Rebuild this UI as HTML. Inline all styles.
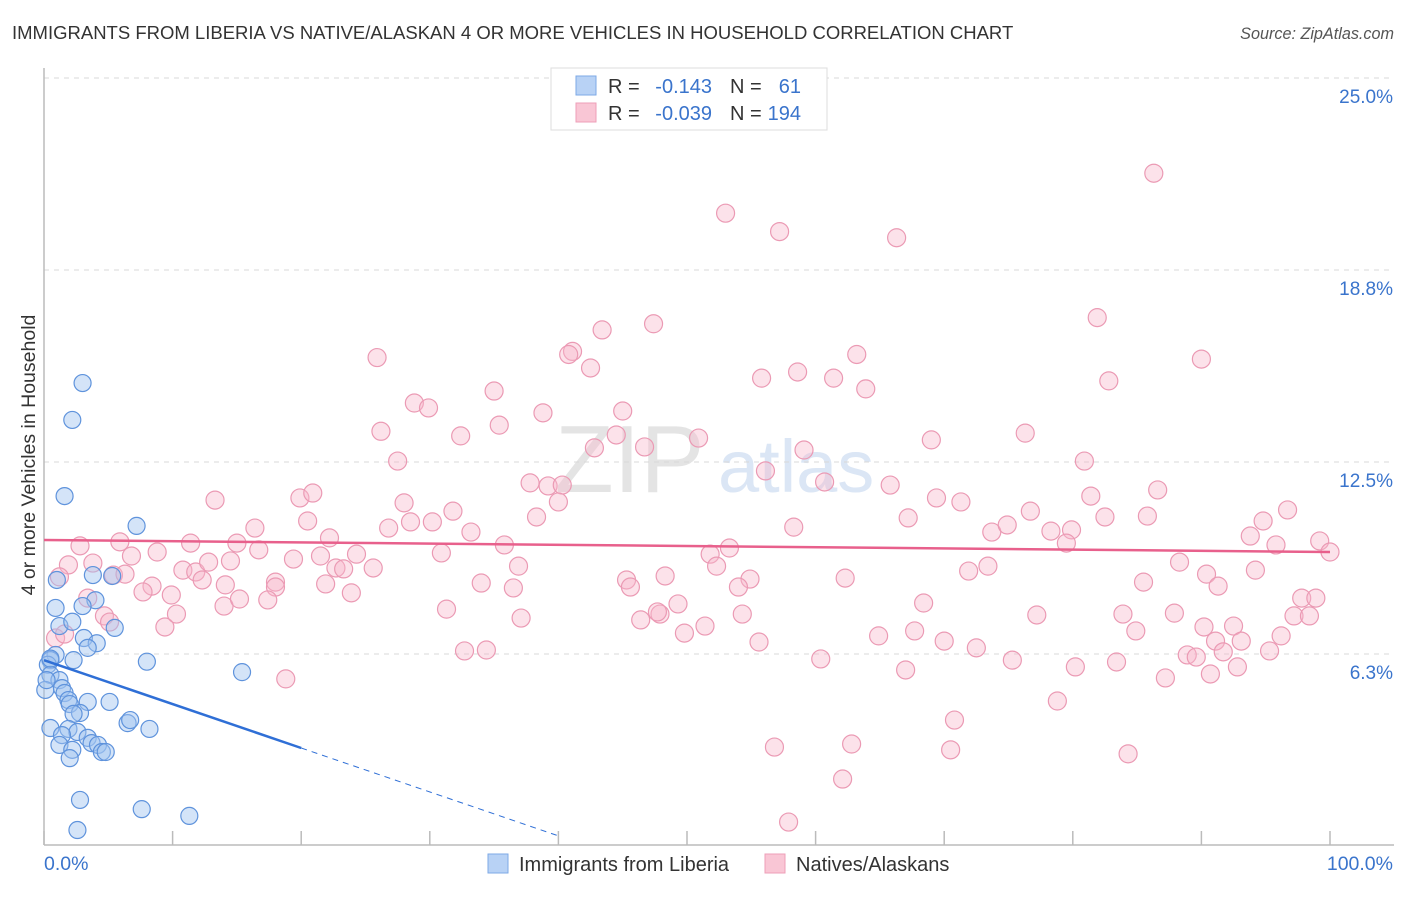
<!DOCTYPE html>
<html><head><meta charset="utf-8"><style>
body{margin:0;background:#fff;font-family:"Liberation Sans",sans-serif;}
svg text{font-family:"Liberation Sans",sans-serif;}
</style></head><body>
<svg id="chart" width="1406" height="892" viewBox="0 0 1406 892">
<text x="12" y="39" font-size="18.5" fill="#333">IMMIGRANTS FROM LIBERIA VS NATIVE/ALASKAN 4 OR MORE VEHICLES IN HOUSEHOLD CORRELATION CHART</text>
<text x="1394" y="39" font-size="16.2" fill="#555" font-style="italic" text-anchor="end">Source: ZipAtlas.com</text>
<g>
<text x="555" y="492" font-size="96" fill="#e4e4e4" font-family="Liberation Serif,serif">ZIP</text>
<text x="718" y="492" font-size="74" fill="#dbe6f5">atlas</text>
</g>
<g id="grid"></g>
<g id="axes"></g>
<g id="pink"></g>
<g id="blue"></g>
<g id="lines"></g>
<text transform="translate(35,455) rotate(-90)" font-size="19.5" fill="#333" text-anchor="middle">4 or more Vehicles in Household</text>
<g>
<rect x="551" y="68" width="276" height="62" fill="#fff" stroke="#ddd"/>
<rect x="576" y="76" width="20" height="19" fill="#b8d2f5" stroke="#7ea9e6"/>
<rect x="576" y="103" width="20" height="19" fill="#f9c6d5" stroke="#ee9fb8"/>
<text x="608" y="93" font-size="20" fill="#333">R = </text><text x="712" y="93" font-size="20" fill="#3a74cc" text-anchor="end">-0.143</text>
<text x="730" y="93" font-size="20" fill="#333">N = </text><text x="801" y="93" font-size="20" fill="#3a74cc" text-anchor="end">61</text>
<text x="608" y="120" font-size="20" fill="#333">R = </text><text x="712" y="120" font-size="20" fill="#3a74cc" text-anchor="end">-0.039</text>
<text x="730" y="120" font-size="20" fill="#333">N = </text><text x="801" y="120" font-size="20" fill="#3a74cc" text-anchor="end">194</text>
</g>
<g>
<rect x="488" y="854" width="20" height="19" fill="#b8d2f5" stroke="#7ea9e6"/>
<text x="519" y="871" font-size="20" fill="#333">Immigrants from Liberia</text>
<rect x="765" y="854" width="20" height="19" fill="#f9c6d5" stroke="#ee9fb8"/>
<text x="796" y="871" font-size="20" fill="#333">Natives/Alaskans</text>
</g>
<text x="44" y="870" font-size="19.5" fill="#3a74cc">0.0%</text>
<text x="1393" y="870" font-size="19.5" fill="#3a74cc" text-anchor="end">100.0%</text>
</svg>
<script>
const yTicks=[25,18.75,12.5,6.25];
const yTickLabels=["25.0%","18.8%","12.5%","6.3%"];
const xTicks=[0,10,20,30,40,50,60,70,80,90,100];
const blueX=[3.0,2.2,1.6,7.2,1.0,3.8,5.3,4.0,3.0,0.9,1.2,5.5,2.2,3.1,4.1,3.4,0.9,0.5,0.3,2.3,8.0,15.4,0.5,1.2,0.1,1.4,1.6,1.9,2.0,3.4,5.1,2.8,2.3,6.5,6.7,0.5,8.2,1.9,2.6,1.4,3.4,1.2,3.7,2.2,4.2,2.0,4.5,4.8,2.8,7.6,2.6,11.3,0.5,0.2];
const blueY=[15.07,13.87,11.39,10.42,8.66,8.82,8.79,8.0,7.81,7.75,7.16,7.1,7.3,6.77,6.6,6.45,6.22,6.05,5.9,6.05,6.0,5.66,5.57,5.4,5.08,5.14,4.98,4.75,4.62,4.69,4.69,4.33,4.3,4.0,4.1,3.84,3.81,3.81,3.71,3.61,3.52,3.29,3.35,3.13,3.29,2.86,3.06,3.06,1.5,1.2,0.52,0.98,6.1,5.4];
const pinkX=[86.3,53.0,57.2,66.3,81.9,43.4,47.4,25.9,41.1,40.8,63.2,90.0,42.5,58.6,55.8,61.4,82.8,35.0,63.9,28.8,29.9,45.0,38.8,35.4,26.2,44.5,32.4,76.3,50.9,69.0,42.8,46.7,59.1,27.5,80.9,56.1,13.3,19.9,20.9,37.8,39.2,40.3,40.0,60.7,65.8,28.0,69.4,71.3,81.4,86.6,96.7,20.5,31.8,76.7,82.5,85.8,16.4,26.8,28.5,30.2,38.3,67.2,94.8,11.4,22.2,33.2,58.3,73.7,74.9,78.3,79.9,93.8,5.9,8.8,6.8,16.7,15.0,19.4,21.5,24.3,30.9,35.8,79.5,95.8,99.2,100,14.5,51.8,53.3,2.8,3.8,1.9,5.4,6.3,10.8,11.8,12.8,18.0,18.0,21.9,22.7,23.3,25.6,36.9,52.3,71.9,73.4,88.3,90.4,94.2,1.2,8.4,12.3,14.1,34.0,36.5,45.3,48.3,54.9,45.6,54.0,62.3,85.5,3.4,7.7,9.9,14.0,15.2,17.4,23.9,31.3,47.9,49.3,68.4,91.3,97.8,98.9,4.7,5.1,9.4,10.3,37.1,46.4,47.7,51.4,54.3,49.8,64.9,67.7,70.0,77.2,83.9,84.9,87.9,90.2,92.5,93.1,96.2,97.2,98.4,0.9,1.6,32.7,34.4,55.6,72.5,91.1,91.7,95.3,60.4,75.3,80.2,83.4,88.9,89.6,92.8,67.0,87.2,18.8,90.7,78.8,70.8,56.8,62.8,70.5,84.3,62.1,57.9];
const pinkY=[21.9,20.6,20.0,19.8,17.2,16.8,17.0,15.9,16.1,16.0,16.0,15.85,15.56,15.43,15.23,15.23,15.14,14.81,14.88,14.42,14.26,14.16,14.1,13.7,13.5,13.38,13.35,13.44,13.28,13.22,12.96,12.99,12.89,12.53,12.53,12.21,11.26,11.33,11.49,11.82,11.72,11.75,11.2,11.85,11.75,11.17,11.33,11.2,11.39,11.59,10.94,10.58,10.9,10.9,10.71,10.74,10.35,10.35,10.55,10.55,10.71,10.68,10.58,9.86,10.03,10.22,10.38,10.22,10.45,10.25,10.29,10.09,9.9,9.57,9.44,9.64,9.86,9.34,9.44,9.5,9.54,9.8,9.86,9.8,9.93,9.57,9.28,9.5,9.7,9.77,9.21,9.15,8.82,8.85,8.98,8.92,9.24,8.59,8.43,8.53,9.05,9.02,9.05,9.11,9.11,8.95,9.11,9.24,8.85,8.98,8.76,8.46,8.66,8.5,8.56,8.4,8.66,8.79,8.69,8.43,8.43,8.72,8.59,8.07,8.27,8.17,7.81,8.04,8.01,8.24,7.71,7.55,7.88,7.91,8.46,8.07,8.07,7.49,7.29,7.13,7.55,7.42,7.36,7.62,7.16,7.55,6.93,6.84,7.0,6.67,7.52,7.55,7.0,7.58,7.13,7.16,6.67,6.84,7.49,7.49,6.77,6.9,6.35,6.38,6.64,6.45,6.67,6.32,6.35,6.09,6.05,5.83,5.99,6.22,6.15,5.83,5.73,5.47,5.44,5.6,4.72,4.1,3.22,3.32,3.13,3.0,2.18,0.78];
const blueTrend=[[0,6.05],[20,3.19],[40,0.33]];
const pinkTrend=[[0,9.96],[100,9.57]];

const NS="http://www.w3.org/2000/svg";
const X0=44,X1=1330,Y0=846,PXY=30.72;
const sx=v=>X0+v*(X1-X0)/100;
const sy=v=>Y0-v*PXY;
function mk(tag,attrs,parent){const e=document.createElementNS(NS,tag);for(const k in attrs)e.setAttribute(k,attrs[k]);parent.appendChild(e);return e;}
const grid=document.getElementById('grid');
yTicks.forEach((t,i)=>{
  const l=mk('line',{x1:X0,x2:1394,y1:sy(t),y2:sy(t),stroke:'#d8d8d8','stroke-dasharray':'5,5'},grid);
  
  
  const tx=mk('text',{x:1393,y:sy(t)+25,'font-size':19,fill:'#3a74cc','text-anchor':'end'},grid);
  tx.textContent=yTickLabels[i];
  
  
});
const axes=document.getElementById('axes');
mk('line',{x1:X0,x2:X0,y1:68,y2:845,stroke:'#bbb','stroke-width':1.5},axes);
mk('line',{x1:X0,x2:1394,y1:845,y2:845,stroke:'#bbb','stroke-width':1.5},axes);
xTicks.forEach(t=>{
  const l=mk('line',{x1:sx(t),x2:sx(t),y1:831,y2:845,stroke:'#bbb','stroke-width':1.5},axes);
  
  
});
const pink=document.getElementById('pink');
pinkX.forEach((v,i)=>{
  const c=mk('circle',{cx:sx(v),cy:sy(pinkY[i]),r:9,fill:'rgba(248,182,202,0.4)',stroke:'#eb9ab4','stroke-width':1.2},pink);
  
  
});
const blue=document.getElementById('blue');
blueX.forEach((v,i)=>{
  const c=mk('circle',{cx:sx(v),cy:sy(blueY[i]),r:8.5,fill:'rgba(160,196,240,0.45)',stroke:'#5f93dc','stroke-width':1.2},blue);
  
  
});
const lines=document.getElementById('lines');
const pl=mk('line',{x1:sx(pinkTrend[0][0]),y1:sy(pinkTrend[0][1]),x2:sx(pinkTrend[1][0]),y2:sy(pinkTrend[1][1]),stroke:'#e8608c','stroke-width':2.5},lines);


const bl=mk('line',{x1:sx(blueTrend[0][0]),y1:sy(blueTrend[0][1]),x2:sx(blueTrend[1][0]),y2:sy(blueTrend[1][1]),stroke:'#2f6fd6','stroke-width':2.5},lines);


const bd=mk('line',{x1:sx(blueTrend[1][0]),y1:sy(blueTrend[1][1]),x2:sx(blueTrend[2][0]),y2:sy(blueTrend[2][1]),stroke:'#2f6fd6','stroke-width':1,'stroke-dasharray':'6,5'},lines);


</script>
</body></html>
